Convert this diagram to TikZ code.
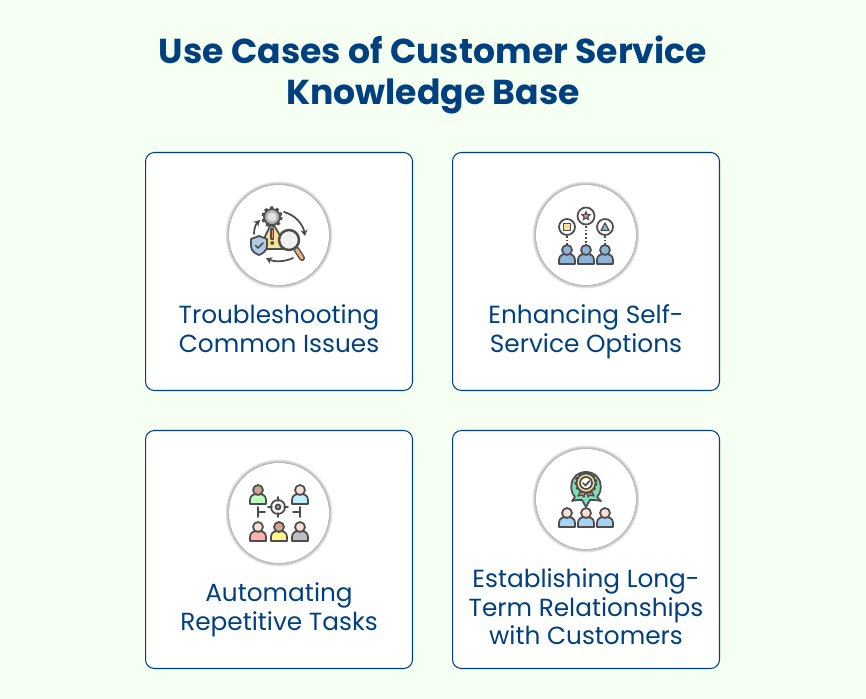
\documentclass[tikz,border=0pt]{standalone}
\usepackage{fontspec}
\usetikzlibrary{arrows.meta, shapes.geometric}
\setmainfont{Poppins}
\definecolor{pagegreen}{HTML}{F5FFF2}
\definecolor{navy}{HTML}{00407F}
\definecolor{iconline}{HTML}{4D4D4F}
\definecolor{personblue}{HTML}{8FB4DA}
\definecolor{lightblue}{HTML}{A9D3F2}
\definecolor{skin}{HTML}{F6DFD5}
\definecolor{darkskin}{HTML}{CFA592}
\definecolor{warnyellow}{HTML}{F7E38F}
\definecolor{softred}{HTML}{E58A8A}
\definecolor{handle}{HTML}{E9B27C}
\definecolor{badgegreen}{HTML}{7FDDB8}
\tikzset{
	card/.style={draw=navy, fill=white, line width=0.6pt, rounded corners=5pt, minimum width=5.34cm, minimum height=4.76cm},
	cardtext/.style={text=navy, align=center, font=\fontsize{14.1}{16.4}\selectfont, execute at begin node=\strut, execute at end node=\strut},
	icon/.style={draw=iconline, line width=1pt, line join=round, line cap=round},
	arc arrow/.style={icon, -{Stealth[length=3.5pt,width=4pt]}}
}
% one person of the icons, head above a round body
\newcommand{\drawperson}[4]{
	\draw[icon, fill=#3] (#1-8, #2+8) -- (#1-8, #2+4) .. controls (#1-8, #2-1) and (#1-4, #2-2) .. (#1, #2-2)
		.. controls (#1+4, #2-2) and (#1+8, #2-1) .. (#1+8, #2+4) -- (#1+8, #2+8) -- cycle;
	\draw[icon, fill=#4] (#1, #2-6) circle (5);
}
% white disc with its soft shadow
\newcommand{\drawdisc}[2]{
	\foreach \r in {53.5,52.5,51.5,50.5}
		\fill[black, opacity=0.09] (#1, #2) circle (\r);
	\fill[white] (#1, #2) circle (50);
}
\begin{document}
\begin{tikzpicture}[x=0.02cm, y=-0.02cm]
	\fill[pagegreen] (0,0) rectangle (866,699);
	\useasboundingbox (0,0) rectangle (866,699);

	% Title
	\node[text=navy, align=center, font=\fontsize{19.7}{23.3}\bfseries\selectfont] (title) at (433, 74.5) {Use Cases of Customer Service\\Knowledge Base};

	% Cards
	\node[card] (troublecard) at (279, 271.5) {};
	\node[card] (selfcard) at (586, 271.5) {};
	\node[card] (taskcard) at (279, 549.5) {};
	\node[card] (relationcard) at (586, 549.5) {};

	\drawdisc{279}{235}
	\drawdisc{586}{235}
	\drawdisc{279}{513}
	\drawdisc{586}{499}

	\node[cardtext] (troubletext) at (279, 333) {Troubleshooting\\Common Issues};
	\node[cardtext] (selftext) at (586, 333) {Enhancing Self-\\Service Options};
	\node[cardtext] (tasktext) at (279, 611) {Automating\\Repetitive Tasks};
	\node[cardtext] (relationtext) at (586, 611) {Establishing Long-\\Term Relationships\\with Customers};

	% Troubleshooting icon
	\draw[icon, fill=warnyellow] (272, 222) -- (259, 249) -- (288, 249) -- cycle;
	\draw[iconline, line width=2.4pt, dash pattern=on 1.6pt off 1.5pt] (272, 217) circle (8.5);
	\draw[icon, fill=gray!60] (272, 217) circle (8);
	\fill[gray!20] (272, 217) circle (4.5);
	\draw[icon, fill=softred, line width=0.7pt] (271, 229) rectangle (273.5, 239);
	\draw[icon, fill=softred, line width=0.7pt] (272.2, 243) circle (1.5);
	\draw[icon, fill=personblue!70!white] (251, 239) -- (259, 236) -- (267, 239) -- (267, 246) .. controls (267, 251) and (262, 254) .. (259, 255)
		.. controls (256, 254) and (251, 251) .. (251, 246) -- cycle;
	\draw[icon] (255.5, 245.5) -- (258, 248) -- (263, 243);
	\draw[iconline, line width=3.4pt, line cap=round] (296.5, 249.5) -- (302, 258);
	\draw[handle, line width=1.8pt, line cap=round] (296.5, 249.5) -- (302, 258);
	\draw[icon, line width=1.4pt, fill=gray!12] (289, 240) circle (10);
	\draw[arc arrow] (284, 212) .. controls (295, 215) and (303, 224) .. (305, 236);
	\draw[arc arrow] (293, 258) .. controls (285, 262) and (274, 262) .. (266, 258);
	\draw[arc arrow] (254, 234) .. controls (254, 228) and (256, 224) .. (260, 220);

	% Self-service icon
	\draw[icon, fill=white] (567, 227) circle (8);
	\draw[icon, fill=white] (586, 216) circle (8.5);
	\draw[icon, fill=white] (605, 227) circle (8);
	\draw[icon, fill=warnyellow, line width=0.7pt] (563.5, 223.5) rectangle (570.5, 230.5);
	\node[star, star points=5, star point ratio=2.2, draw=iconline, fill=softred, line width=0.6pt, inner sep=0pt, minimum size=5pt] (starmark) at (586, 216) {};
	\draw[icon, fill=personblue, line width=0.7pt] (605, 223) -- (601, 230.5) -- (609, 230.5) -- cycle;
	\foreach \x/\yy in {567/236, 586/226, 605/236}
		\draw[iconline, line width=0.9pt, dash pattern=on 1pt off 1.1pt] (\x, \yy) -- (\x, 245);
	\drawperson{567}{256}{personblue}{personblue}
	\drawperson{586}{256}{personblue}{personblue}
	\drawperson{605}{256}{personblue}{personblue}

	% Automating icon
	\drawperson{258}{496}{green!25!white}{darkskin}
	\drawperson{300}{496}{blue!25!cyan!25!white}{skin}
	\drawperson{258}{533}{red!30!white}{skin}
	\drawperson{279}{533}{yellow!45!white}{darkskin}
	\drawperson{300}{533}{gray!50}{skin}
	\draw[icon] (278, 507) circle (7);
	\draw[icon, fill=darkskin] (278, 507) circle (2.5);
	\draw[icon] (278, 497) -- (278, 501) (278, 513) -- (278, 517) (268, 507) -- (272, 507) (284, 507) -- (288, 507);
	\draw[icon] (258, 507) -- (258, 517) (258, 512) -- (265, 512);
	\draw[icon] (300, 507) -- (300, 517) (300, 512) -- (293, 512);

	% Relationships icon
	\draw[icon, fill=badgegreen] (586, 507) -- (582, 500) .. controls (579, 500) and (575, 500) .. (572, 501) -- (575, 497)
		.. controls (571, 493) and (571, 487) .. (571.5, 485) .. controls (572, 477) and (578, 472) .. (586, 472)
		.. controls (594, 472) and (600, 477) .. (600.5, 485) .. controls (601, 487) and (601, 493) .. (597, 497)
		-- (601, 501) .. controls (597, 500) and (593, 500) .. (590, 500) -- cycle;
	\draw[icon, fill=softred, line width=0.7pt] (581, 490) -- (578, 496) -- (582, 495) -- (584, 497) -- (585, 491) -- cycle;
	\draw[icon, fill=softred, line width=0.7pt] (591, 490) -- (594, 496) -- (590, 495) -- (588, 497) -- (587, 491) -- cycle;
	\draw[draw=iconline, line width=1.7pt, dash pattern=on 1.4pt off 1.4pt] (586, 483) circle (10);
	\draw[icon, fill=warnyellow] (586, 483) circle (9.5);
	\draw[icon, fill=white] (586, 483) circle (6);
	\draw[icon] (583, 483) -- (585.5, 485.5) -- (589.5, 481);
	\drawperson{567}{519}{lightblue}{skin}
	\drawperson{586}{519}{lightblue}{skin}
	\drawperson{605}{519}{lightblue}{skin}
\end{tikzpicture}
\end{document}
